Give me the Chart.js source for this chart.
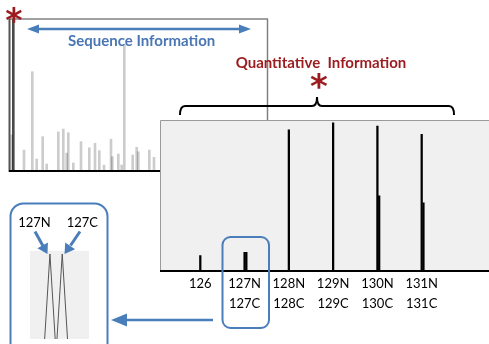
<!DOCTYPE html>
<html>
<head>
<meta charset="utf-8">
<script src="https://cdn.jsdelivr.net/npm/chart.js@4.4.1/dist/chart.umd.min.js"></script>
<style>
body { margin: 0; background: #fff; width: 489px; height: 344px; overflow: hidden; position: relative; font-family: Lato, sans-serif; }
.box { position: absolute; }
.lbl { position: absolute; transform: translate(-50%, -50%); white-space: pre; line-height: 1; }
.blue { color: #4a76b3; font-weight: bold; font-size: 15px; }
.red { color: #9b1b1f; font-weight: bold; font-size: 15px; }
.star { color: #9b1b1f; font-family: "DejaVu Sans", sans-serif; font-weight: bold; }
.peak { font-size: 13px; color: #000; }
</style>
</head>
<body>

<div class="box" style="left:9px;top:19px;width:259px;height:152px"><canvas id="full-spectrum"></canvas></div>
<div class="box" style="left:160px;top:120px;width:329px;height:224px"><canvas id="reporter"></canvas></div>
<div class="box" style="left:30px;top:251px;width:59px;height:88px;background:#f0f0f0"><canvas id="zoom127"></canvas></div>

<svg width="489" height="344" style="position:absolute;left:0;top:0">
	<!-- moldura do espectro completo -->
	<line x1="9" y1="19" x2="268" y2="19" stroke="#808080" stroke-width="1.5"/>
	<line x1="267.5" y1="19" x2="267.5" y2="120" stroke="#808080" stroke-width="1.5"/>
	<line x1="9.5" y1="19" x2="9.5" y2="172" stroke="#555" stroke-width="2"/>
	<line x1="9" y1="171" x2="160" y2="171" stroke="#000" stroke-width="2"/>

	<!-- seta dupla -->
	<line x1="36" y1="29" x2="242" y2="29" stroke="#4a7ebb" stroke-width="2.5"/>
	<polygon points="27,29 39,24.5 39,33.5" fill="#4a7ebb"/>
	<polygon points="251,29 239,24.5 239,33.5" fill="#4a7ebb"/>

	<!-- chave -->
	<path d="M180,115 Q180,106 185,106 L312,106 Q317,106 317,97 Q317,106 322,106 L449,106 Q454,106 454,115" fill="none" stroke="#000" stroke-width="2"/>

	<!-- caixa 127 e seta -->
	<rect x="222.5" y="237" width="46.5" height="91" rx="8" fill="none" stroke="#4a7ebb" stroke-width="2"/>
	<line x1="213" y1="320" x2="125" y2="320" stroke="#4a7ebb" stroke-width="2.5"/>
	<polygon points="111,320 127,313.5 127,326.5" fill="#4a7ebb"/>

	<!-- caixa do zoom -->
	<rect x="10.5" y="203.5" width="97" height="170" rx="13" fill="none" stroke="#4a7ebb" stroke-width="2"/>
	<line x1="35" y1="231.5" x2="43" y2="246" stroke="#4a7ebb" stroke-width="3"/>
	<polygon points="47.5,254 37.4,248.2 47.9,242.4" fill="#4a7ebb"/>
	<line x1="80" y1="231.5" x2="70.5" y2="245.5" stroke="#4a7ebb" stroke-width="3"/>
	<polygon points="64.5,254 65.2,242.4 75.1,249.2" fill="#4a7ebb"/>
</svg>

<div class="lbl blue" style="left:141.7px;top:39.5px">Sequence Information</div>
<div class="lbl red" style="left:321px;top:61.5px">Quantitative  Information</div>
<div class="lbl star" style="left:14px;top:20px;font-size:33px">*</div>
<div class="lbl star" style="left:319px;top:86px;font-size:34px">*</div>
<div class="lbl peak" style="left:34.5px;top:222.3px">127N</div>
<div class="lbl peak" style="left:82.3px;top:222.3px">127C</div>

<script>
// espectro completo (m/z x intensidade relativa)
const fullMz = [123.5, 185, 226.5, 248.5, 278.5, 298.5, 356.5, 381.5, 398.5, 406.5, 431.5, 470, 511.5, 540, 561.5,
	585, 620, 626.5, 656.5, 673.5, 686.5, 728.5, 748.5, 756.5, 811.5, 835]
const fullInt = [23.7, 13.8, 65.3, 7.9, 22.6, 4.6, 25.7, 27.6, 11.8, 25.2, 5.3, 19.3, 15.3, 18.2, 13.4,
	3.9, 20.9, 9.4, 11.2, 4, 83.4, 10.5, 15.6, 12.7, 13.8, 9]
const reporterRegionMz = [131.5]
const reporterRegionInt = [100]

// ions reporter TMT
const reporterMz = [126, 127, 128, 129, 130, 131]
const mzN = [126, 127, 128, 129, 130, 131]
const intN = [10, 12.2, 93.4, 98.2, 96, 90.5]
const mzC = [127.04, 128.04, 129.04, 130.04, 131.04]
const intC = [12.2, null, null, 49.6, 45.1]
const tickLabels = [['126'], ['127N', '127C'], ['128N', '128C'], ['129N', '129C'], ['130N', '130C'], ['131N', '131C']]

// zoom no 127
const zoomMzN = [127.1221, 127.1248, 127.1275]
const zoomIntN = [0, 100, 0]
const zoomMzC = [127.1284, 127.1311, 127.1338]
const zoomIntC = [0, 100, 0]

function pares(xs, ys) {
	return xs.map((x, i) => ({ x: x, y: ys[i] }))
}

const panelBg = {
	id: 'panelBg',
	beforeDraw(chart) {
		const ctx = chart.ctx, a = chart.chartArea
		ctx.save()
		ctx.fillStyle = '#f0f0f0'
		ctx.fillRect(a.left, a.top, a.right - a.left, a.bottom - a.top)
		ctx.strokeStyle = '#9a9a9a'
		ctx.lineWidth = 1
		ctx.beginPath()
		ctx.moveTo(a.left + 0.5, a.bottom)
		ctx.lineTo(a.left + 0.5, a.top + 0.5)
		ctx.lineTo(a.right, a.top + 0.5)
		ctx.stroke()
		ctx.restore()
	}
}

const semEixo = { display: false }

new Chart(document.getElementById('full-spectrum'), {
	type: 'bar',
	data: {
		datasets: [{
			data: pares(fullMz, fullInt),
			backgroundColor: 'rgba(0, 0, 0, 0.2)',
			barThickness: 2,
			grouped: false
		}, {
			data: pares(reporterRegionMz, reporterRegionInt),
			backgroundColor: '#4a4a4a',
			barThickness: 2,
			grouped: false
		}]
	},
	options: {
		responsive: true,
		maintainAspectRatio: false,
		animation: false,
		plugins: { legend: semEixo, tooltip: { enabled: false } },
		scales: {
			x: { type: 'linear', min: 110, max: 1405, offset: false, display: false },
			y: { min: 0, max: 100, display: false }
		}
	}
})

new Chart(document.getElementById('reporter'), {
	type: 'bar',
	data: {
		datasets: [{
			label: 'N',
			data: pares(mzN, intN),
			backgroundColor: '#000',
			barThickness: 1.6,
			grouped: false
		}, {
			label: 'C',
			data: pares(mzC, intC),
			backgroundColor: '#000',
			barThickness: 1.6,
			grouped: false
		}]
	},
	options: {
		responsive: true,
		maintainAspectRatio: false,
		animation: false,
		layout: { padding: 0 },
		plugins: { legend: semEixo, tooltip: { enabled: false } },
		scales: {
			x: {
				type: 'linear',
				min: 125.09,
				max: 132.52,
				offset: false,
				afterBuildTicks: ax => { ax.ticks = reporterMz.map(v => ({ value: v })) },
				afterFit: ax => { ax.height = 73.3 },
				grid: { color: 'transparent', drawTicks: false, offset: false },
				border: { color: '#000', width: 2 },
				ticks: {
					padding: 3,
					color: '#000',
					autoSkip: false,
					maxRotation: 0,
					font: { family: 'Lato', size: 13, lineHeight: 1.55 },
					callback: (v, i) => tickLabels[i]
				}
			},
			y: { min: 0, max: 100, display: false }
		}
	},
	plugins: [panelBg]
})

new Chart(document.getElementById('zoom127'), {
	type: 'line',
	data: {
		datasets: [{
			data: pares(zoomMzN, zoomIntN),
			borderColor: '#555',
			borderWidth: 1,
			pointRadius: 0
		}, {
			data: pares(zoomMzC, zoomIntC),
			borderColor: '#555',
			borderWidth: 1,
			pointRadius: 0
		}]
	},
	options: {
		responsive: true,
		maintainAspectRatio: false,
		animation: false,
		plugins: { legend: semEixo, tooltip: { enabled: false } },
		scales: {
			x: { type: 'linear', min: 127.1146, max: 127.1448, display: false },
			y: { min: 0, max: 103.5, display: false }
		}
	}
})
</script>
</body>
</html>
